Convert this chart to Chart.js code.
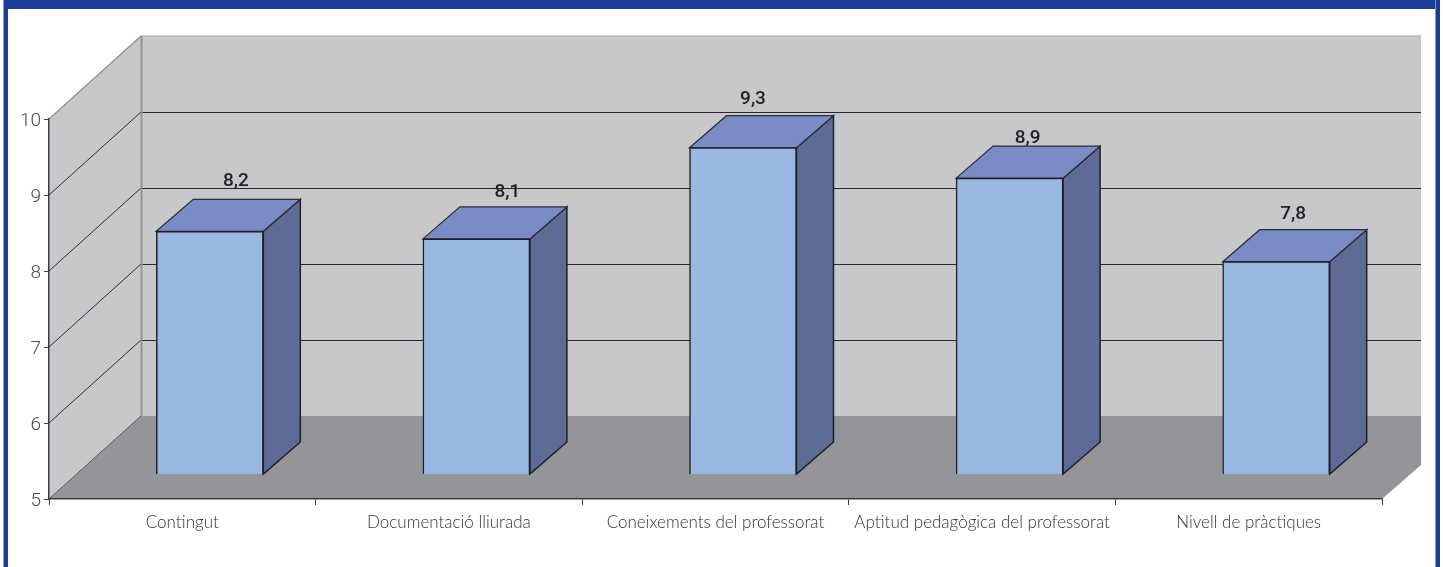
<!DOCTYPE html>
<html>
<head>
<meta charset="utf-8">
<script src="https://cdn.jsdelivr.net/npm/chart.js@4"></script>
<style>
html, body { margin: 0; padding: 0; background: #fff; overflow: hidden; }
#frameTop { position: absolute; left: 3px; top: 0; width: 1437px; height: 9px; background: #1b3f96; }
#frameLeft { position: absolute; left: 3px; top: 0; width: 4px; height: 567px; background: #1b3f96; border-left: 1px solid #7f95c8; }
#frameRight { position: absolute; left: 1435px; top: 0; width: 4px; height: 567px; background: #1b3f96; border-left: 1px solid #7f95c8; }
#myChart { position: absolute; left: 0; top: 0; }
</style>
</head>
<body>
<div id="frameTop"></div>
<div id="frameLeft"></div>
<div id="frameRight"></div>
<canvas id="myChart" width="1443" height="567"></canvas>
<script>
var categories = ['Contingut', 'Documentació lliurada', 'Coneixements del professorat', 'Aptitud pedagògica del professorat', 'Nivell de pràctiques'];
var values = [8.2, 8.1, 9.3, 8.9, 7.8];
var yTicks = [5, 6, 7, 8, 9, 10];

// nudges of the value labels, the source placed them unevenly
var labelShiftX = [26, 31, 10, 18, 17];
var labelShiftY = [-18, -15, -16, -8, -15];

// depth of the walls and of the bars, and where bars stand on the floor
var wallDx = 92, wallDy = -83;
var barDx = 37, barDy = -32;
var standDx = 27.5, standDy = -24.5;

var labelFont = 'Lato, "Open Sans", sans-serif';
var numberFont = 'Roboto, "Open Sans", sans-serif';

function poly(c, pts, fill, stroke, lw) {
    c.beginPath();
    c.moveTo(pts[0][0], pts[0][1]);
    for (var i = 1; i < pts.length; i++) c.lineTo(pts[i][0], pts[i][1]);
    c.closePath();
    if (fill) { c.fillStyle = fill; c.fill(); }
    if (stroke) { c.strokeStyle = stroke; c.lineWidth = lw || 1; c.stroke(); }
}

function line(c, x1, y1, x2, y2, color, lw) {
    c.beginPath();
    c.moveTo(x1, y1);
    c.lineTo(x2, y2);
    c.strokeStyle = color;
    c.lineWidth = lw;
    c.stroke();
}

var box3d = {
    id: 'box3d',
    beforeDraw: function (chart) {
        var c = chart.ctx, y = chart.scales.y, a = chart.chartArea;
        var top = y.getPixelForValue(10), bottom = y.getPixelForValue(5);
        var backX = a.left + wallDx, rightX = a.right + 39;
        c.save();
        poly(c, [[a.left, top], [backX, top + wallDy], [backX, bottom + wallDy], [a.left, bottom]], '#c7c8ca');
        poly(c, [[backX, top + wallDy], [rightX, top + wallDy], [rightX, bottom + wallDy], [backX, bottom + wallDy]], '#c7c8ca');
        poly(c, [[a.left, bottom], [backX, bottom + wallDy], [rightX, bottom + wallDy], [rightX, bottom - 34], [a.right, bottom]], '#939598');
        yTicks.forEach(function (v) {
            var py = y.getPixelForValue(v);
            if (v < 10) line(c, a.left, py, backX, py + wallDy, v === 5 ? '#55565a' : '#2b2b2f', 1);
            if (v > 5 && v < 10) line(c, backX, py + wallDy + 0.5, rightX, py + wallDy + 0.5, '#25252a', 1.2);
        });
        line(c, a.left, top, backX, top + wallDy, '#8e8f92', 1.2);
        line(c, backX, top + wallDy, rightX, top + wallDy, '#a3a4a7', 1.2);
        line(c, backX + 0.5, top + wallDy, backX + 0.5, bottom + wallDy, '#959598', 2);
        c.restore();
    },
    beforeDatasetDraw: function (chart, args) {
        var c = chart.ctx, meta = chart.getDatasetMeta(args.index);
        c.save();
        c.translate(standDx, standDy);
        meta.data.forEach(function (bar) {
            var half = bar.width / 2, l = bar.x - half, r = bar.x + half;
            poly(c, [[r, bar.y], [r + barDx, bar.y + barDy], [r + barDx, bar.base + barDy], [r, bar.base]], '#5d6b96', '#1f1f25', 1.5);
            poly(c, [[l, bar.y], [l + barDx, bar.y + barDy], [r + barDx, bar.y + barDy], [r, bar.y]], '#7b8bc6', '#2b2c34', 1.2);
        });
    },
    afterDatasetDraw: function (chart, args) {
        var c = chart.ctx, meta = chart.getDatasetMeta(args.index);
        c.restore();
        c.save();
        c.font = '500 19px ' + numberFont;
        c.fillStyle = '#222226';
        c.textAlign = 'center';
        c.textBaseline = 'middle';
        meta.data.forEach(function (bar, i) {
            var text = values[i].toFixed(1).replace('.', ',');
            c.fillText(text, bar.x + standDx + labelShiftX[i], bar.y + standDy + barDy + labelShiftY[i]);
        });
        c.restore();
    }
};

var ctx = document.getElementById('myChart').getContext('2d');
var myChart = new Chart(ctx, {
    type: 'bar',
    data: {
        labels: categories,
        datasets: [{
            data: values,
            base: 5,
            barThickness: 107,
            backgroundColor: '#98b7e1',
            borderColor: '#1f1f25',
            borderWidth: 1.5,
            clip: false
        }]
    },
    options: {
        responsive: false,
        animation: false,
        layout: { padding: { top: 119, right: 61, left: 0, bottom: 0 } },
        plugins: {
            legend: { display: false },
            tooltip: { enabled: false }
        },
        scales: {
            x: {
                afterFit: function (scale) { scale.height = 68; },
                border: { display: true, color: '#3a3a3e', width: 1.5 },
                grid: { drawOnChartArea: false, drawTicks: true, tickLength: 6, tickColor: '#3a3a3e' },
                ticks: {
                    maxRotation: 0,
                    autoSkip: false,
                    padding: 7,
                    color: '#333337',
                    font: { family: labelFont, size: 17, weight: '300' }
                }
            },
            y: {
                min: 5,
                max: 10,
                afterFit: function (scale) { scale.width = 49; },
                afterBuildTicks: function (scale) {
                    scale.ticks = yTicks.map(function (v) { return { value: v }; });
                },
                border: { display: true, color: '#3a3a3e', width: 1.5 },
                grid: { drawOnChartArea: false, drawTicks: true, tickLength: 5, tickColor: '#3a3a3e' },
                ticks: {
                    padding: 3,
                    labelOffset: 2,
                    color: '#4a4a4f',
                    font: { family: numberFont, size: 19, weight: '300' }
                }
            }
        }
    },
    plugins: [box3d]
});
</script>
</body>
</html>
